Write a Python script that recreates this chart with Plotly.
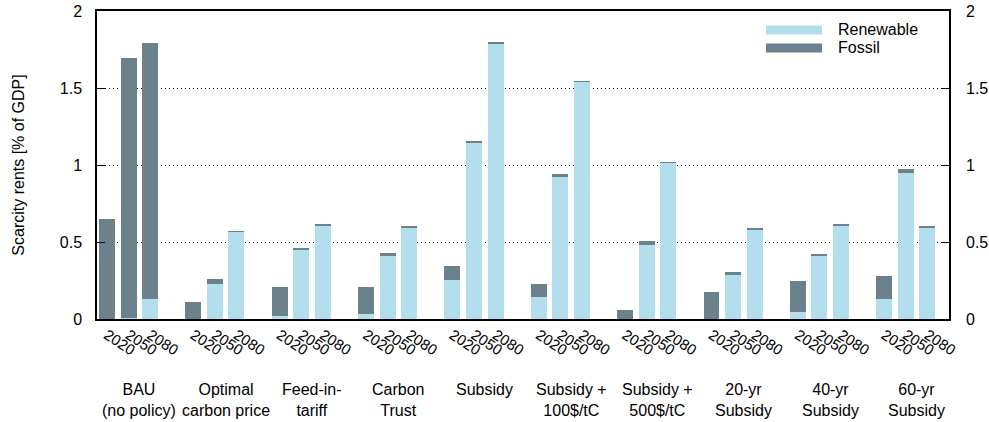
import plotly.graph_objects as go

groups = ["BAU<br>(no policy)", "Optimal<br>carbon price", "Feed-in-<br>tariff", "Carbon<br>Trust",
          "Subsidy", "Subsidy +<br>100$/tC", "Subsidy +<br>500$/tC", "20-yr<br>Subsidy",
          "40-yr<br>Subsidy", "60-yr<br>Subsidy"]
years = ["2020", "2050", "2080"]

renewable = [
    [0.0, 0.005, 0.13],
    [0.0, 0.227, 0.565],
    [0.02, 0.452, 0.608],
    [0.035, 0.409, 0.595],
    [0.255, 1.145, 1.79],
    [0.145, 0.922, 1.539],
    [0.003, 0.478, 1.013],
    [0.0, 0.286, 0.584],
    [0.048, 0.411, 0.61],
    [0.13, 0.948, 0.595],
]
fossil = [
    [0.65, 1.69, 1.66],
    [0.11, 0.035, 0.006],
    [0.19, 0.011, 0.009],
    [0.17, 0.02, 0.009],
    [0.09, 0.013, 0.007],
    [0.084, 0.022, 0.006],
    [0.055, 0.03, 0.006],
    [0.177, 0.019, 0.007],
    [0.20, 0.007, 0.007],
    [0.151, 0.028, 0.007],
]

REN_COLOR = "#b2deed"
FOS_COLOR = "#6b828c"
FONT = "Liberation Sans"

xs, ren_vals, fos_vals, tick_text = [], [], [], []
for g in range(len(groups)):
    for j, yr in enumerate(years):
        xs.append(4 * g + j)
        ren_vals.append(renewable[g][j])
        fos_vals.append(fossil[g][j])
        tick_text.append(yr)

fig = go.Figure()
fig.add_trace(go.Bar(x=xs, y=ren_vals, name="Renewable", marker_color=REN_COLOR,
                     marker_line_width=0, width=0.74, showlegend=False))
fig.add_trace(go.Bar(x=xs, y=fos_vals, name="Fossil", marker_color=FOS_COLOR,
                     marker_line_width=0, width=0.74, showlegend=False))
# invisible trace to activate right axis
fig.add_trace(go.Scatter(x=[0], y=[0], yaxis="y2", mode="markers", marker_opacity=0,
                         showlegend=False, hoverinfo="skip"))

fig.update_layout(
    barmode="stack",
    width=989, height=422,
    margin=dict(l=97, r=40, t=11, b=103, autoexpand=False),
    paper_bgcolor="white", plot_bgcolor="white",
    font=dict(family=FONT, size=16, color="black"),
    xaxis=dict(range=[-0.46, 39.0], tickmode="array", tickvals=xs, ticktext=tick_text,
               tickangle=33, tickfont=dict(size=15), ticks="", showgrid=False,
               zeroline=False, showline=True, linecolor="black", linewidth=1.5,
               mirror=True, automargin=False),
    yaxis=dict(range=[0, 2], tickvals=[0, 0.5, 1, 1.5, 2], ticktext=["0", "0.5", "1", "1.5", "2"],
               ticks="inside", ticklen=8, tickcolor="black", showgrid=True,
               gridcolor="black", griddash="1px,3px", gridwidth=1, zeroline=False,
               showline=True, linecolor="black", linewidth=1.5, mirror=True,
               ticklabelstandoff=10, automargin=False,
               title=dict(text="Scarcity rents [% of GDP]", standoff=31, font=dict(size=16))),
    yaxis2=dict(range=[0, 2], overlaying="y", side="right", tickvals=[0, 0.5, 1, 1.5, 2],
                ticktext=["0", "0.5", "1", "1.5", "2"], ticks="inside", ticklen=8,
                tickcolor="black", showgrid=False, zeroline=False, showline=False,
                ticklabelstandoff=16, automargin=False),
)

# group labels
for g, lab in enumerate(groups):
    fig.add_annotation(x=4 * g + 1.5, y=0, xref="x", yref="paper", text=lab,
                       showarrow=False, yanchor="top", yshift=-60,
                       font=dict(size=16, family=FONT))

# legend (drawn manually to mimic wide samples); coordinates in page pixels
def px_x(p):
    return (p - 97) / (949 - 97)

def px_y(p):
    return (319 - p) / (319 - 11)

for label, color, cy in [("Renewable", REN_COLOR, 30), ("Fossil", FOS_COLOR, 48)]:
    fig.add_shape(type="rect", xref="paper", yref="paper",
                  x0=px_x(766), x1=px_x(822), y0=px_y(cy + 4.5), y1=px_y(cy - 4.5),
                  fillcolor=color, line_width=0)
    fig.add_annotation(x=px_x(836), y=px_y(cy), xref="paper", yref="paper", text=label,
                       showarrow=False, xanchor="left", yanchor="middle",
                       font=dict(size=16, family=FONT))

fig.write_html("out.html", config={"displayModeBar": False},
               post_script="document.body.style.margin='0';document.body.style.overflow='hidden';")
